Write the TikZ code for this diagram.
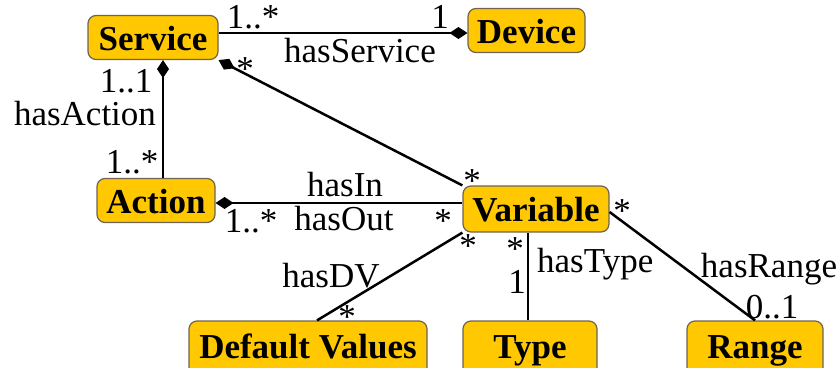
\documentclass[tikz,border=0pt]{standalone}
\usepackage{fontspec}
\setmainfont{LiberationSerif}[Extension=.ttf, UprightFont=*-Regular, BoldFont=*-Bold, ItalicFont=*-Italic, BoldItalicFont=*-BoldItalic]
\usetikzlibrary{arrows.meta,calc}
\definecolor{boxgold}{RGB}{255,200,0}
\definecolor{boxedge}{RGB}{110,100,80}
\begin{document}
\begin{tikzpicture}[x=1pt,y=-1pt,
  cls/.style={draw=boxedge, line width=1.2pt, fill=boxgold, rounded corners=8pt,
    minimum height=44pt, inner sep=0pt, text height=25pt, text depth=0pt,
    font=\fontsize{35}{40}\selectfont\bfseries},
  bot/.style={cls, minimum height=54pt, text height=20pt},
  lbl/.style={font=\fontsize{35}{40}\selectfont, inner sep=0pt, anchor=base},
  conn/.style={line width=2.5pt},
  fromcomp/.style={arrows={Diamond[length=18pt,width=12pt]-}},
  tocomp/.style={arrows={-Diamond[length=18pt,width=12pt]}}]
\useasboundingbox (0,0) rectangle (840,367);
% classes
\node[cls, minimum width=130pt] (service) at (153,37.5) {Service};
\node[cls, minimum width=117pt] (device) at (526.5,30.5) {Device};
\node[cls, minimum width=118pt] (action) at (156,200.5) {Action};
\node[cls, minimum width=146pt, minimum height=46pt] (variable) at (536,209) {Variable};
\node[bot, minimum width=238pt] (dv) at (308,348) {Default Values};
\node[bot, minimum width=134pt] (type) at (530,348) {Type};
\node[bot, minimum width=136pt] (range) at (755,348) {Range};
% connectors
\coordinate (sd) at ([yshift=-2.5pt]device.west);
\draw[conn, tocomp] (service.east |- sd) -- (sd);
\coordinate (sa) at ([xshift=10pt]service.south);
\draw[conn, fromcomp] (sa) -- (sa |- action.north);
\draw[conn, fromcomp] (service.south east) -- (variable.north west);
\coordinate (av) at ([yshift=-2.5pt]action.east);
\draw[conn, fromcomp] (av) -- (av -| variable.west);
\draw[conn] (variable.south west) -- ([xshift=9pt]dv.north);
\coordinate (vt) at ([xshift=-2pt]type.north);
\draw[conn] (vt) -- (vt |- variable.south);
\draw[conn] ([yshift=-3pt]variable.east) -- (range.north);
% labels
\node[lbl] (l1) at (253,28) {1..*};
\node[lbl] (l2) at (440,28) {1};
\node[lbl] (l3) at (360,62) {hasService};
\node[lbl] (l4) at (126,92) {1..1};
\node[lbl] (l5) at (85,125) {hasAction};
\node[lbl] (l6) at (132,173) {1..*};
\node[lbl] (l7) at (245,80) {*};
\node[lbl] (l8) at (472,192) {*};
\node[lbl] (l9) at (345,196) {hasIn};
\node[lbl] (l10) at (251,232) {1..*};
\node[lbl] (l11) at (344,230) {hasOut};
\node[lbl] (l12) at (443,232) {*};
\node[lbl] (l13) at (622,222) {*};
\node[lbl] (l14) at (468,257) {*};
\node[lbl] (l15) at (515,260) {*};
\node[lbl, anchor=base west] (l16) at (537,272) {hasType};
\node[lbl] (l17) at (517,293) {1};
\node[lbl] (l18) at (331,287) {hasDV};
\node[lbl] (l19) at (347,328) {*};
\node[lbl] (l20) at (769,277) {hasRange};
\node[lbl] (l21) at (772,318) {0..1};
\end{tikzpicture}
\end{document}
